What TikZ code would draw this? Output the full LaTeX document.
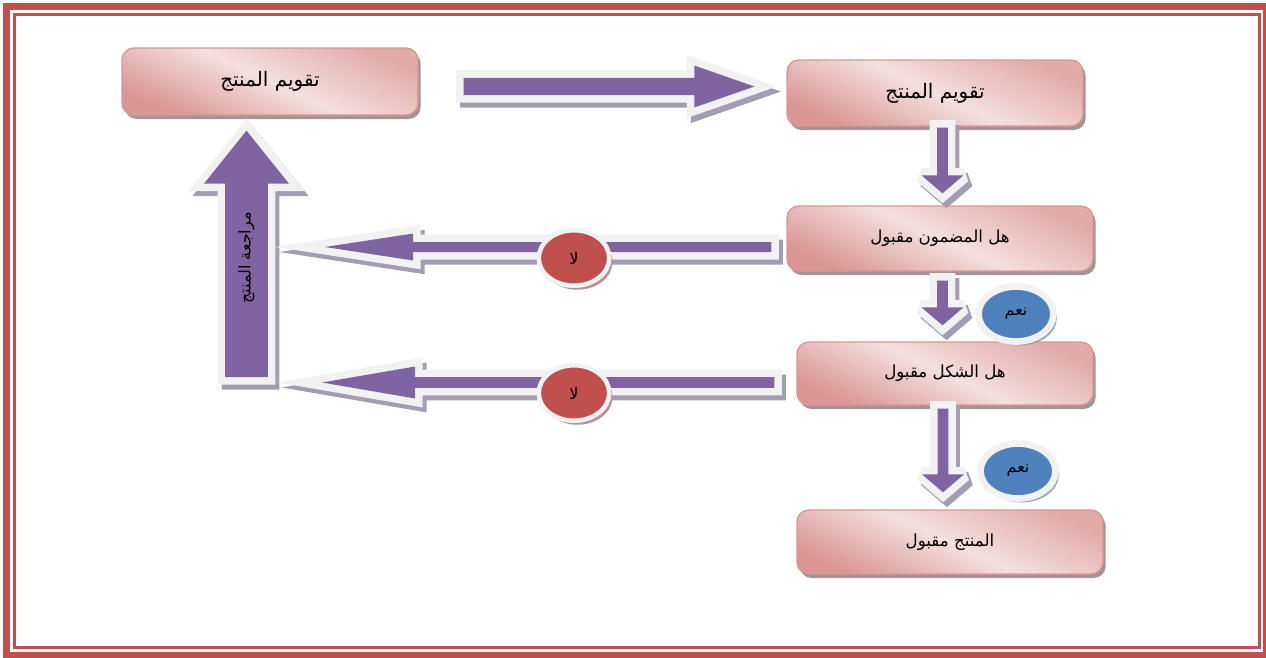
\documentclass[tikz,border=0pt]{standalone}
\usepackage{fontspec}
\TeXXeTstate=1
\newfontfamily\arabicfont[Script=Arabic]{DejaVu Sans}
\usetikzlibrary{calc,shapes.geometric,shadows}

\definecolor{framec}{HTML}{C0504D}
\definecolor{boxtopc}{HTML}{E2ABAA}
\definecolor{boxmidc}{HTML}{F3E0DF}
\definecolor{boxbotc}{HTML}{D99694}
\definecolor{boxedgec}{HTML}{D99694}
\definecolor{boxshadowc}{HTML}{A69393}
\definecolor{arrowfillc}{HTML}{8064A2}
\definecolor{arrowrimc}{HTML}{F2F2F2}
\definecolor{arrowshadowc}{HTML}{A49CB2}
\definecolor{nofillc}{HTML}{C0504D}
\definecolor{yesfillc}{HTML}{4F81BD}
\definecolor{bubblerimc}{HTML}{F2F2F2}
\definecolor{noshadowc}{HTML}{B39595}
\definecolor{yesshadowc}{HTML}{98A3B5}

% right-to-left Arabic text
\newcommand\ar[1]{\arabicfont\beginR #1\endR}

% outline of a block arrow: start, head base, tip, shaft half width, head half width
\newcommand\arrowoutline[5]{($(#1)!#4!90:(#3)$) -- ($(#2)!#4!90:(#3)$) -- ($(#2)!#5!90:(#3)$) -- (#3) -- ($(#2)!#5!-90:(#3)$) -- ($(#2)!#4!-90:(#3)$) -- ($(#1)!#4!-90:(#3)$) -- cycle}

% block arrow with rim and shadow:
% start, tip, shaft half width, head half width, head length, extra rim options
\newcommand\blockarrow[6]{%
  \coordinate (ba-s) at (#1);
  \coordinate (ba-e) at (#2);
  \coordinate (ba-h) at ($(ba-e)!#5!(ba-s)$);
  \coordinate (bs-s) at ($(ba-s)+(4,-5)$);
  \coordinate (bs-e) at ($(ba-e)+(4,-5)$);
  \coordinate (bs-h) at ($(ba-h)+(4,-5)$);
  \path[arrowshadow,#6] \arrowoutline{bs-s}{bs-h}{bs-e}{#3}{#4};
  \path[arrowrim,#6] \arrowoutline{ba-s}{ba-h}{ba-e}{#3}{#4};
  \path[arrowbody] \arrowoutline{ba-s}{ba-h}{ba-e}{#3}{#4};
}

\tikzset{
  stepbox/.style={draw=boxedgec, line width=1pt, rounded corners=9pt,
    top color=boxtopc, bottom color=boxbotc, middle color=boxmidc, shading angle=-25,
    inner sep=0pt, text=black,
    drop shadow={shadow xshift=2pt, shadow yshift=-3pt, fill=boxshadowc, opacity=1}},
  bigtext/.style={font=\arabicfont\fontsize{15}{17}\selectfont},
  midtext/.style={font=\arabicfont\fontsize{12.5}{15}\selectfont},
  arrowshadow/.style={draw=arrowshadowc, fill=arrowshadowc, line width=11.25pt, line join=miter},
  arrowrim/.style={draw=arrowrimc, line width=11.25pt, line join=miter},
  arrowbody/.style={fill=arrowfillc},
  shorthead/.style={miter limit=1.6},
  nobubble/.style={ellipse, fill=nofillc, draw=bubblerimc, line width=3.4pt,
    minimum width=52.9pt, minimum height=41.6pt, inner sep=0pt,
    font=\arabicfont\fontsize{12}{14}\selectfont,
    drop shadow={shadow xshift=2.5pt, shadow yshift=-3pt, fill=noshadowc, opacity=1}},
  yesbubble/.style={ellipse, fill=yesfillc, draw=bubblerimc, line width=5pt,
    minimum width=56.25pt, minimum height=41.25pt, inner sep=0pt,
    font=\arabicfont\fontsize{12}{14}\selectfont,
    drop shadow={shadow xshift=2.5pt, shadow yshift=-3pt, fill=yesshadowc, opacity=1}},
}

\begin{document}
\begin{tikzpicture}[x=0.75pt,y=0.75pt]
\useasboundingbox (0,0) rectangle (1266,-657);

% double frame
\draw[framec, line width=5.25pt] (6.5,-6.5) rectangle (1266.5,-655.5);
\draw[framec, line width=2.25pt] (14.5,-14) rectangle (1259.5,-647.5);

% process boxes
\node[stepbox, bigtext, minimum width=222pt, minimum height=50.25pt] (A) at (270,-81.5) {\ar{تقويم المنتج}};
\node[stepbox, bigtext, minimum width=222pt, minimum height=49.5pt] (B) at (935,-93) {\ar{تقويم المنتج}};
\node[stepbox, midtext, minimum width=229.5pt, minimum height=48.75pt] (C) at (940,-238.5) {\ar{هل المضمون مقبول}};
\node[stepbox, midtext, minimum width=222pt, minimum height=47.25pt] (D) at (945,-373.5) {\ar{هل الشكل مقبول}};
\node[stepbox, midtext, minimum width=229.5pt, minimum height=48pt] (E) at (950,-542) {\ar{المنتج مقبول}};

% free ends on the loop-back column
\coordinate (loopfoot) at (246.5,-377);
\coordinate (tipC) at (325,-247);
\coordinate (tipD) at (322,-382.5);

% loop-back arrow with its label
\blockarrow{loopfoot}{$(A.south)+(-23.5,-15)$}{16.1pt}{31.9pt}{39.75pt}{}
\node[rotate=90, font=\arabicfont\fontsize{12}{14}\selectfont] (loop) at (246.5,-258) {\ar{مراجعة المنتج}};

% main flow
\blockarrow{$(A.east)+(45,-5)$}{$(B.west)+(-32,6.5)$}{6.4pt}{15.75pt}{45pt}{}
\blockarrow{$(B.south)+(7.5,-1)$}{$(C.north)+(2.5,12)$}{4.1pt}{15.75pt}{13.5pt}{shorthead}
\blockarrow{$(C.south)+(2.5,-9)$}{$(D.north)+(-2.5,16)$}{4.1pt}{15.75pt}{13.5pt}{shorthead}
\blockarrow{$(D.south)+(-2,-3)$}{$(E.north)+(-7,17)$}{4.1pt}{15.75pt}{13.5pt}{shorthead}

% rejection arrows
\blockarrow{$(C.west)+(-15,-8.5)$}{tipC}{3.75pt}{10.1pt}{66pt}{}
\blockarrow{$(D.west)+(-22,-9)$}{tipD}{4.1pt}{12pt}{69.75pt}{}

% decision labels
\node[nobubble] (no1) at (574,-258) {\ar{لا}};
\node[nobubble] (no2) at (574,-393) {\ar{لا}};
\node[yesbubble] (yes1) at (1016,-314) {\ar{نعم}};
\node[yesbubble] (yes2) at (1018,-471) {\ar{نعم}};
\end{tikzpicture}
\end{document}
